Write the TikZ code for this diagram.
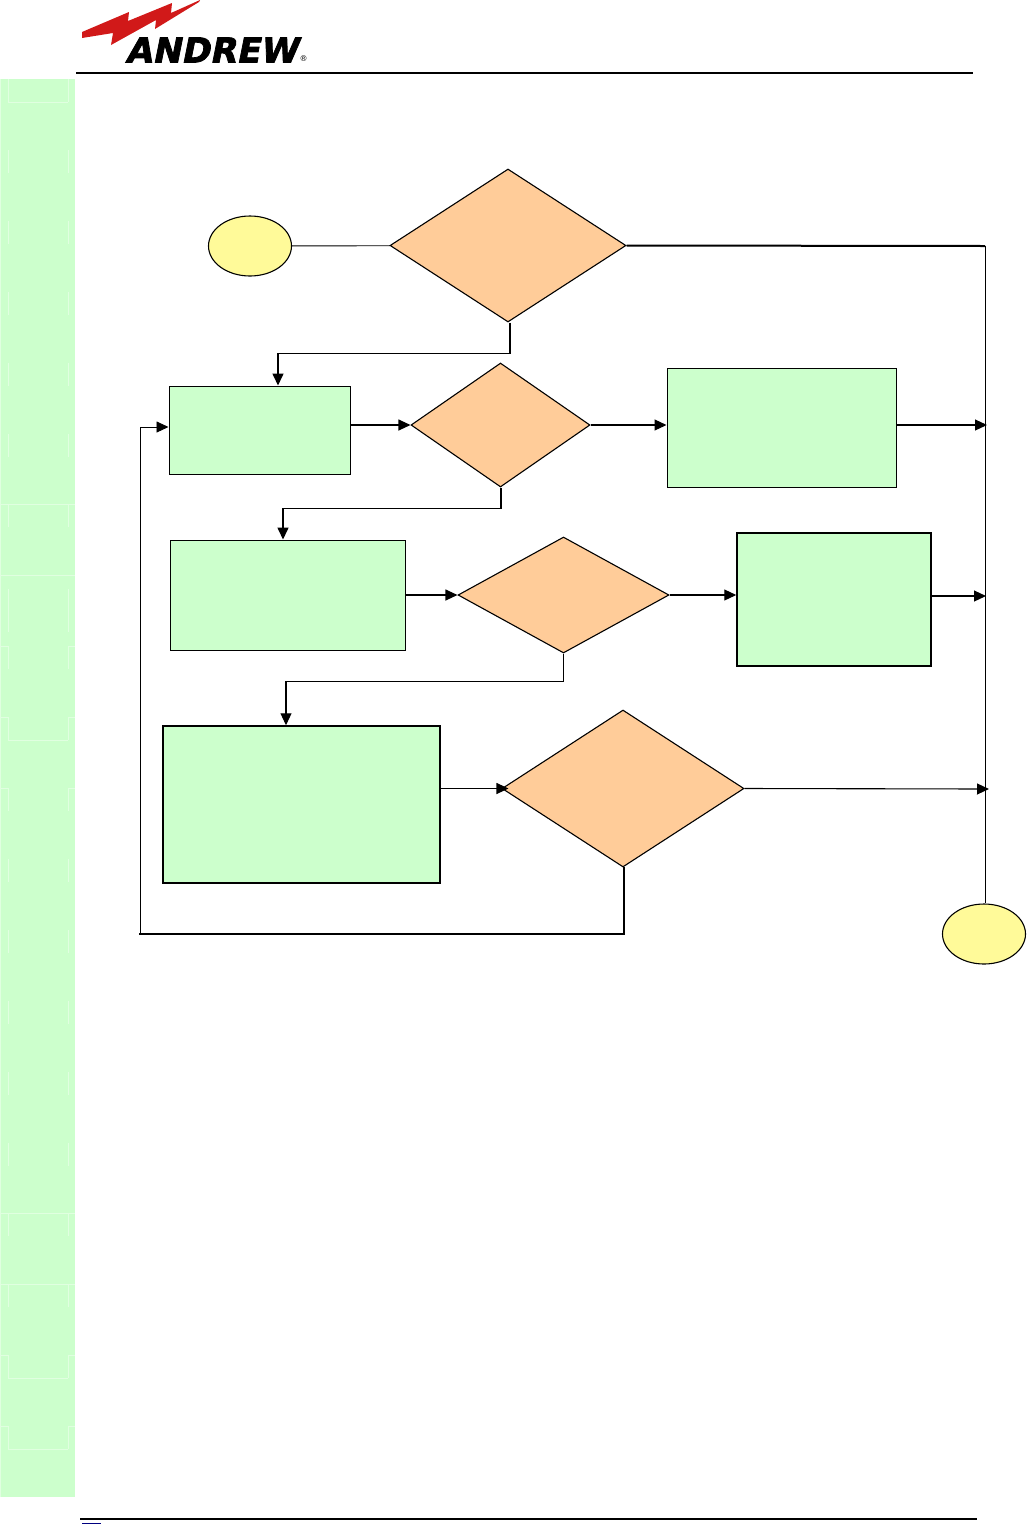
\documentclass[tikz,border=0pt]{standalone}
\usepackage{fontspec}
\setmainfont{DejaVu Sans}
\newfontfamily\logofont[FakeBold=2.2,FakeSlant=0.2]{DejaVu Sans Bold}
\usetikzlibrary{arrows.meta, positioning, shapes.geometric}

\begin{document}
\begin{tikzpicture}[
    x=1pt, y=-1pt,
    terminal/.style={draw, ellipse, fill=yellow!40!white, line width=1.1pt, inner sep=0pt, minimum width=83, minimum height=60},
    decision/.style={draw, diamond, fill=orange!40!white, line width=1.1pt, inner sep=0pt},
    process/.style={draw, rectangle, fill=green!20!white, line width=1pt, inner sep=0pt},
    flow/.style={-{Triangle[length=12pt,width=11pt]}, line width=1.1pt},
    flow_thin/.style={flow, line width=0.9pt},
    flow_thick/.style={flow, line width=1.6pt},
    plain/.style={line width=0.9pt},
    plain_thick/.style={line width=2pt},
    rule/.style={line width=2pt},
    seam/.style={green!12!white, line width=0.7pt}
]
    \useasboundingbox (0,0) rectangle (1026,1524);

    % page furniture
    \fill[green!20!white] (0,79) rectangle (75,1497);
    \draw[seam] (0.5,79) -- (0.5,1497);
    \foreach \k in {0,...,19} {
        \pgfmathsetmacro{\ytop}{79+70.9*\k}
        \ifnum\k=7\else
            \draw[seam] (8,\ytop) -- ++(0,23);
            \draw[seam] (68,\ytop) -- ++(0,23);
        \fi
    }
    \foreach \k in {6,7,16,17} {
        \pgfmathsetmacro{\ytop}{79+70.9*\k}
        \draw[seam] (0,\ytop) -- (75,\ytop);
    }
    \foreach \k in {8,9,10,18,19} {
        \pgfmathsetmacro{\ytop}{79+70.9*\k}
        \draw[seam] (0,\ytop) -- (8,\ytop);
        \draw[seam] (68,\ytop) -- (75,\ytop);
    }
    \foreach \k in {0,9,18,19} {
        \pgfmathsetmacro{\ytop}{102+70.9*\k}
        \draw[seam] (8,\ytop) -- (68,\ytop);
    }
    \draw[seam] (8,589) -- (8,632);
    \draw[seam] (68,589) -- (68,632);

    \node[inner sep=0pt, font=\logofont\fontsize{34.5}{34.5}\selectfont] (logo) at (211.5,50) {ANDREW};
    \node[inner sep=0pt, font=\fontsize{8}{8}\selectfont] (reg) at (303.5,59) {®};
    \fill[red!80!black!90!white] (82,32) -- (129,12) -- (128,21) -- (172,3) -- (171,13) -- (200,0)
        -- (199,2) -- (155,29) -- (156,20) -- (111,45) -- (113,33) -- (82,38) -- cycle;
    \coordinate (head_l) at (76,73);
    \coordinate (head_r) at (973,73);
    \coordinate (foot_l) at (80,1519);
    \coordinate (foot_r) at (977,1519);
    \draw[rule] (head_l) -- (head_r);
    \draw[rule] (foot_l) -- (foot_r);
    \fill[blue!50!black] (82,1523) rectangle (101,1524);

    % shapes
    \node[terminal] (start) at (250,246) {};
    \node[decision, minimum width=236, minimum height=153, aspect=1.54] (d_one) at (508,245.5) {};
    \node[process, minimum width=181, minimum height=88] (b_one) at (259.5,430) {};
    \node[decision, minimum width=179, minimum height=124, aspect=1.44] (d_two) at (500.5,425) {};
    \node[process, minimum width=229, minimum height=119] (r_one) at (781.5,427.5) {};
    \node[process, minimum width=235, minimum height=110] (b_two) at (287.5,595) {};
    \node[decision, minimum width=211, minimum height=116, aspect=1.82] (d_three) at (563.5,595) {};
    \node[process, minimum width=194, minimum height=133, line width=1.5pt] (r_two) at (834,599.5) {};
    \node[process, minimum width=277, minimum height=157, line width=1.5pt] (b_three) at (301.5,804.5) {};
    \node[decision, minimum width=242, minimum height=157, aspect=1.54] (d_four) at (623,788.5) {};
    \node[terminal] (stop) at (984,934) {};

    % free ends on the collecting line
    \coordinate (trunk) at (985,246);
    \coordinate (tr_one) at (987,425);
    \coordinate (tr_two) at (986,596);
    \coordinate (tr_three) at (989,789);
    \coordinate (loop_r) at (624,934);
    \coordinate (loop_l) at (140,934);
    \coordinate (loop_t) at (140,427);

    \draw[plain] (start) -- (d_one);
    \draw[plain_thick] (d_one.east) -- (trunk);
    \draw[plain] (trunk) -- (trunk |- stop.north);
    \draw[flow_thick] (d_one.south) ++(2,0) -- ++(0,31) -| ([xshift=18.5]b_one.north);

    \draw[flow] (b_one.east |- d_two.west) -- (d_two.west);
    \draw[flow] (d_two.east) -- (r_one.west |- d_two.east);
    \draw[flow] (r_one.east |- tr_one) -- (tr_one);
    \draw[flow_thick] (d_two.south) ++(0.5,0) -- ++(0,21) -| ([xshift=-4.5]b_two.north);

    \draw[flow] (b_two.east) -- (d_three.west);
    \draw[flow] (d_three.east) -- (r_two.west |- d_three.east);
    \draw[flow] (r_two.east |- tr_two) -- (tr_two);
    \draw[flow] (d_three.south) -- ++(0,28) -| ([xshift=-15.5]b_three.north);

    \draw[flow] (b_three.east |- d_four.west) -- ([xshift=7]d_four.west);
    \draw[flow] (d_four.east) -- (tr_three);
    \draw[plain_thick, line cap=rect] (d_four.south -| loop_r) -- (loop_r) -- (loop_l);
    \draw[flow_thin] (loop_l) -- (loop_t) -- (b_one.west |- loop_t);
\end{tikzpicture}
\end{document}
